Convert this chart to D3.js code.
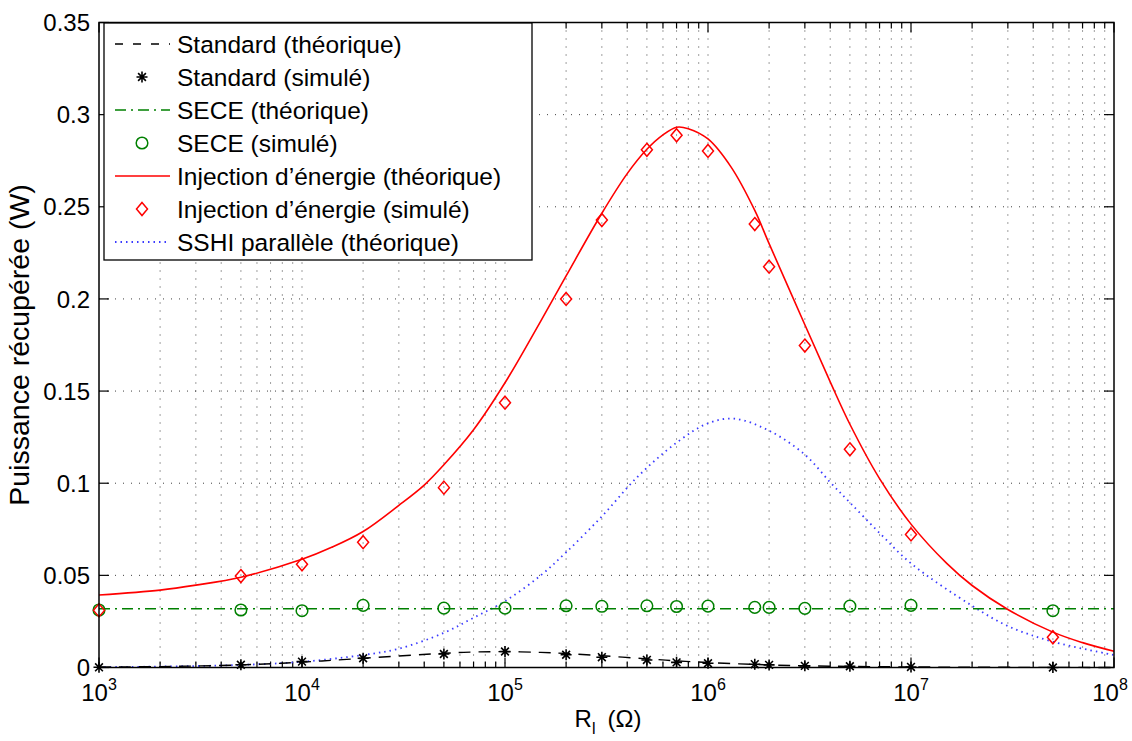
<!DOCTYPE html>
<html><head><meta charset="utf-8">
<script src="https://cdn.jsdelivr.net/npm/d3@7"></script>
<style>
body{margin:0;background:#fff;}
svg text{font-family:"Liberation Sans",Arial,Helvetica,sans-serif;fill:#000;}
</style></head>
<body><svg id="c" width="1132" height="741"></svg>
<script>
// ---- data ----
const simR = [1e3,5e3,1e4,2e4,5e4,1e5,2e5,3e5,5e5,7e5,1e6,1.7e6,2e6,3e6,5e6,1e7,5e7];
const stdSim = [0.0001,0.0015,0.0032,0.0050,0.0073,0.0087,0.0069,0.0056,0.0041,0.0028,0.0023,0.0018,0.0014,0.0009,0.0007,0.0003,0.0000];
const seceSim = [0.0312,0.0312,0.0308,0.0337,0.0322,0.0322,0.0335,0.0332,0.0335,0.0331,0.0333,0.0326,0.0326,0.0321,0.0333,0.0337,0.0308];
const injSim = [0.031,0.0496,0.056,0.068,0.0976,0.1437,0.200,0.2428,0.2809,0.2888,0.2803,0.2406,0.2175,0.1747,0.1184,0.0722,0.0164];

const stdThR = [1e3,2e3,5e3,1e4,2e4,5e4,7e4,1e5,1.5e5,2e5,3e5,5e5,7e5,1e6,2e6,3e6,5e6,1e7,2e7,5e7,1e8];
const stdTh = [0.0002,0.0005,0.0014,0.0029,0.0050,0.0077,0.0084,0.0086,0.0082,0.0076,0.0064,0.0047,0.0036,0.0027,0.0014,0.0009,0.0006,0.0003,0.00015,0.00006,0.00003];

const seceThR = [1e3,1e8];
const seceTh = [0.0319,0.0319];

const injThR = [1e3,2e3,3e3,5e3,1e4,1.4e4,2e4,3e4,4e4,5e4,7e4,1e5,1.5e5,2e5,3e5,4e5,5e5,6e5,7e5,8e5,1e6,1.3e6,1.7e6,2e6,3e6,4e6,5e6,7e6,1e7,1.5e7,2e7,3e7,5e7,7e7,1e8];
const injTh = [0.0393,0.0420,0.0447,0.0490,0.0587,0.0652,0.0738,0.0880,0.0990,0.1100,0.1290,0.1545,0.1880,0.2125,0.2465,0.2680,0.2812,0.2890,0.2932,0.2924,0.2868,0.2715,0.2480,0.2300,0.1860,0.1550,0.1320,0.1025,0.0778,0.0565,0.0445,0.0315,0.0192,0.0135,0.0088];

const sshiThR = [1e3,2e3,5e3,1e4,2e4,3e4,5e4,7e4,1e5,1.5e5,2e5,3e5,4.5e5,7e5,1e6,1.35e6,2e6,3e6,4e6,5e6,7e6,1e7,2e7,3e7,5e7,1e8];
const sshiTh = [0.0002,0.0005,0.0014,0.0031,0.0068,0.0102,0.0188,0.0270,0.0360,0.0500,0.0625,0.0820,0.1035,0.1220,0.1325,0.1350,0.1285,0.1155,0.1005,0.0895,0.0730,0.0565,0.0335,0.0225,0.0140,0.0068];

const yTicks = [0,0.05,0.1,0.15,0.2,0.25,0.3,0.35];
const yTickLabels = ["0","0.05","0.1","0.15","0.2","0.25","0.3","0.35"];
const xDecades = [3,4,5,6,7,8];
const legendLabels = ["Standard (théorique)","Standard (simulé)","SECE (théorique)","SECE (simulé)","Injection d’énergie (théorique)","Injection d’énergie (simulé)","SSHI parallèle (théorique)"];

// ---- layout ----
const L=99, R=1114, T=22.5, B=667.5;
const svg = d3.select("#c");
const x = d3.scaleLog().domain([1e3,1e8]).range([L,R]);
const y = d3.scaleLinear().domain([0,0.35]).range([B,T]);

svg.append("rect").attr("x",0).attr("y",0).attr("width",1132).attr("height",741).attr("fill","#fff");

// grid
const minorX = [];
xDecades.forEach(d=>{ for(let m=1;m<10;m++){ const v=m*Math.pow(10,d); if(v<=1e8) minorX.push(v);} });
const g = svg.append("g");
g.selectAll("line.gx").data(minorX.filter(v=>v>1e3&&v<1e8)).enter().append("line")
 .attr("x1",d=>x(d)).attr("x2",d=>x(d)).attr("y1",T).attr("y2",B)
 .attr("stroke","#000").attr("stroke-width",1).attr("stroke-dasharray","1,7").attr("opacity",0.75);
g.selectAll("line.gy").data(yTicks.filter(v=>v>0&&v<0.35)).enter().append("line")
 .attr("x1",L).attr("x2",R).attr("y1",d=>y(d)).attr("y2",d=>y(d))
 .attr("stroke","#000").attr("stroke-width",1).attr("stroke-dasharray","1,7").attr("opacity",0.75);

// ticks
const isMajor = v => Math.abs(Math.log10(v)-Math.round(Math.log10(v)))<1e-9;
minorX.forEach(v=>{
  const len = isMajor(v)?10:6;
  svg.append("line").attr("x1",x(v)).attr("x2",x(v)).attr("y1",B).attr("y2",B-len).attr("stroke","#000").attr("stroke-width",1.2);
  svg.append("line").attr("x1",x(v)).attr("x2",x(v)).attr("y1",T).attr("y2",T+len).attr("stroke","#000").attr("stroke-width",1.2);
});
yTicks.forEach(v=>{
  svg.append("line").attr("x1",L).attr("x2",L+10).attr("y1",y(v)).attr("y2",y(v)).attr("stroke","#000").attr("stroke-width",1.2);
  svg.append("line").attr("x1",R).attr("x2",R-10).attr("y1",y(v)).attr("y2",y(v)).attr("stroke","#000").attr("stroke-width",1.2);
});

// tick labels
yTicks.forEach((v,i)=>{
  svg.append("text").attr("x",L-9).attr("y",y(v)).attr("dy","0.36em").attr("text-anchor","end")
   .attr("font-size",24).text(yTickLabels[i]);
});
xDecades.forEach(d=>{
  const cx = d===8 ? x(Math.pow(10,d))-4 : x(Math.pow(10,d));
  const t = svg.append("text").attr("x",cx).attr("y",B+33).attr("text-anchor","middle").attr("font-size",24);
  t.append("tspan").text("10");
  t.append("tspan").attr("dy",-11).attr("font-size",16).text(String(d));
});

// axis labels
const xl = svg.append("text").attr("x",608).attr("y",727).attr("text-anchor","middle").attr("font-size",24);
xl.append("tspan").text("R");
xl.append("tspan").attr("dy",7).attr("font-size",16).text("l");
xl.append("tspan").attr("dy",-7).text("\u2002(\u03A9)");
svg.append("text").attr("transform","translate(29,345) rotate(-90)").attr("text-anchor","middle").attr("font-size",28.5)
 .text("Puissance récupérée (W)");

// curves
const line = (xs,ys)=> d3.line().x((d,i)=>x(xs[i])).y((d,i)=>y(ys[i])).curve(d3.curveCatmullRom.alpha(0.5))(ys);
const plot = svg.append("g");
plot.append("path").attr("d",line(sshiThR,sshiTh)).attr("fill","none").attr("stroke","#3a3aff").attr("stroke-width",1.8).attr("stroke-dasharray","1.5,4");
plot.append("path").attr("d",line(seceThR,seceTh)).attr("fill","none").attr("stroke","#008000").attr("stroke-width",1.4).attr("stroke-dasharray","11,5,2,5");
plot.append("path").attr("d",line(stdThR,stdTh)).attr("fill","none").attr("stroke","#000").attr("stroke-width",1.4).attr("stroke-dasharray","12,8");
plot.append("path").attr("d",line(injThR,injTh)).attr("fill","none").attr("stroke","#ff0000").attr("stroke-width",1.6);

// markers
function star(gg,cx,cy,s){
  const a = s, b = s*0.7071;
  gg.append("path").attr("d",`M${cx-a},${cy}L${cx+a},${cy}M${cx},${cy-a}L${cx},${cy+a}M${cx-b},${cy-b}L${cx+b},${cy+b}M${cx-b},${cy+b}L${cx+b},${cy-b}`)
    .attr("stroke","#000").attr("stroke-width",1.6).attr("fill","none");
}
function circ(gg,cx,cy){ gg.append("circle").attr("cx",cx).attr("cy",cy).attr("r",5.8).attr("fill","none").attr("stroke","#008000").attr("stroke-width",1.5); }
function diam(gg,cx,cy){ gg.append("path").attr("d",`M${cx},${cy-6.5}L${cx+5.5},${cy}L${cx},${cy+6.5}L${cx-5.5},${cy}Z`).attr("fill","none").attr("stroke","#ff0000").attr("stroke-width",1.5); }

simR.forEach((r,i)=>{ circ(plot,x(r),y(seceSim[i])); });
simR.forEach((r,i)=>{ diam(plot,x(r),y(injSim[i])); });
simR.forEach((r,i)=>{ star(plot,x(r),y(stdSim[i]),5.5); });

// axes box
svg.append("rect").attr("x",L).attr("y",T).attr("width",R-L).attr("height",B-T).attr("fill","none").attr("stroke","#000").attr("stroke-width",1.5);

// legend
const lg = svg.append("g");
lg.append("rect").attr("x",104).attr("y",23).attr("width",428).attr("height",237).attr("fill","#fff").attr("stroke","#000").attr("stroke-width",1.3);
const rowY = i => 44 + i*33;
const lx1=115, lx2=170, mx=142, tx=177;
lg.append("line").attr("x1",lx1).attr("x2",lx2).attr("y1",rowY(0)).attr("y2",rowY(0)).attr("stroke","#000").attr("stroke-width",1.4).attr("stroke-dasharray","8,10");
star(lg,mx,rowY(1),5.5);
lg.append("line").attr("x1",lx1).attr("x2",lx2).attr("y1",rowY(2)).attr("y2",rowY(2)).attr("stroke","#008000").attr("stroke-width",1.4).attr("stroke-dasharray","11,5,2,5");
circ(lg,mx,rowY(3));
lg.append("line").attr("x1",lx1).attr("x2",lx2).attr("y1",rowY(4)).attr("y2",rowY(4)).attr("stroke","#ff0000").attr("stroke-width",1.6);
diam(lg,mx,rowY(5));
lg.append("line").attr("x1",lx1).attr("x2",lx2).attr("y1",rowY(6)).attr("y2",rowY(6)).attr("stroke","#3a3aff").attr("stroke-width",1.8).attr("stroke-dasharray","1.5,4");
legendLabels.forEach((t,i)=>{
  lg.append("text").attr("x",tx).attr("y",rowY(i)).attr("dy","0.36em").attr("font-size",24.5).text(t);
});
</script></body></html>
